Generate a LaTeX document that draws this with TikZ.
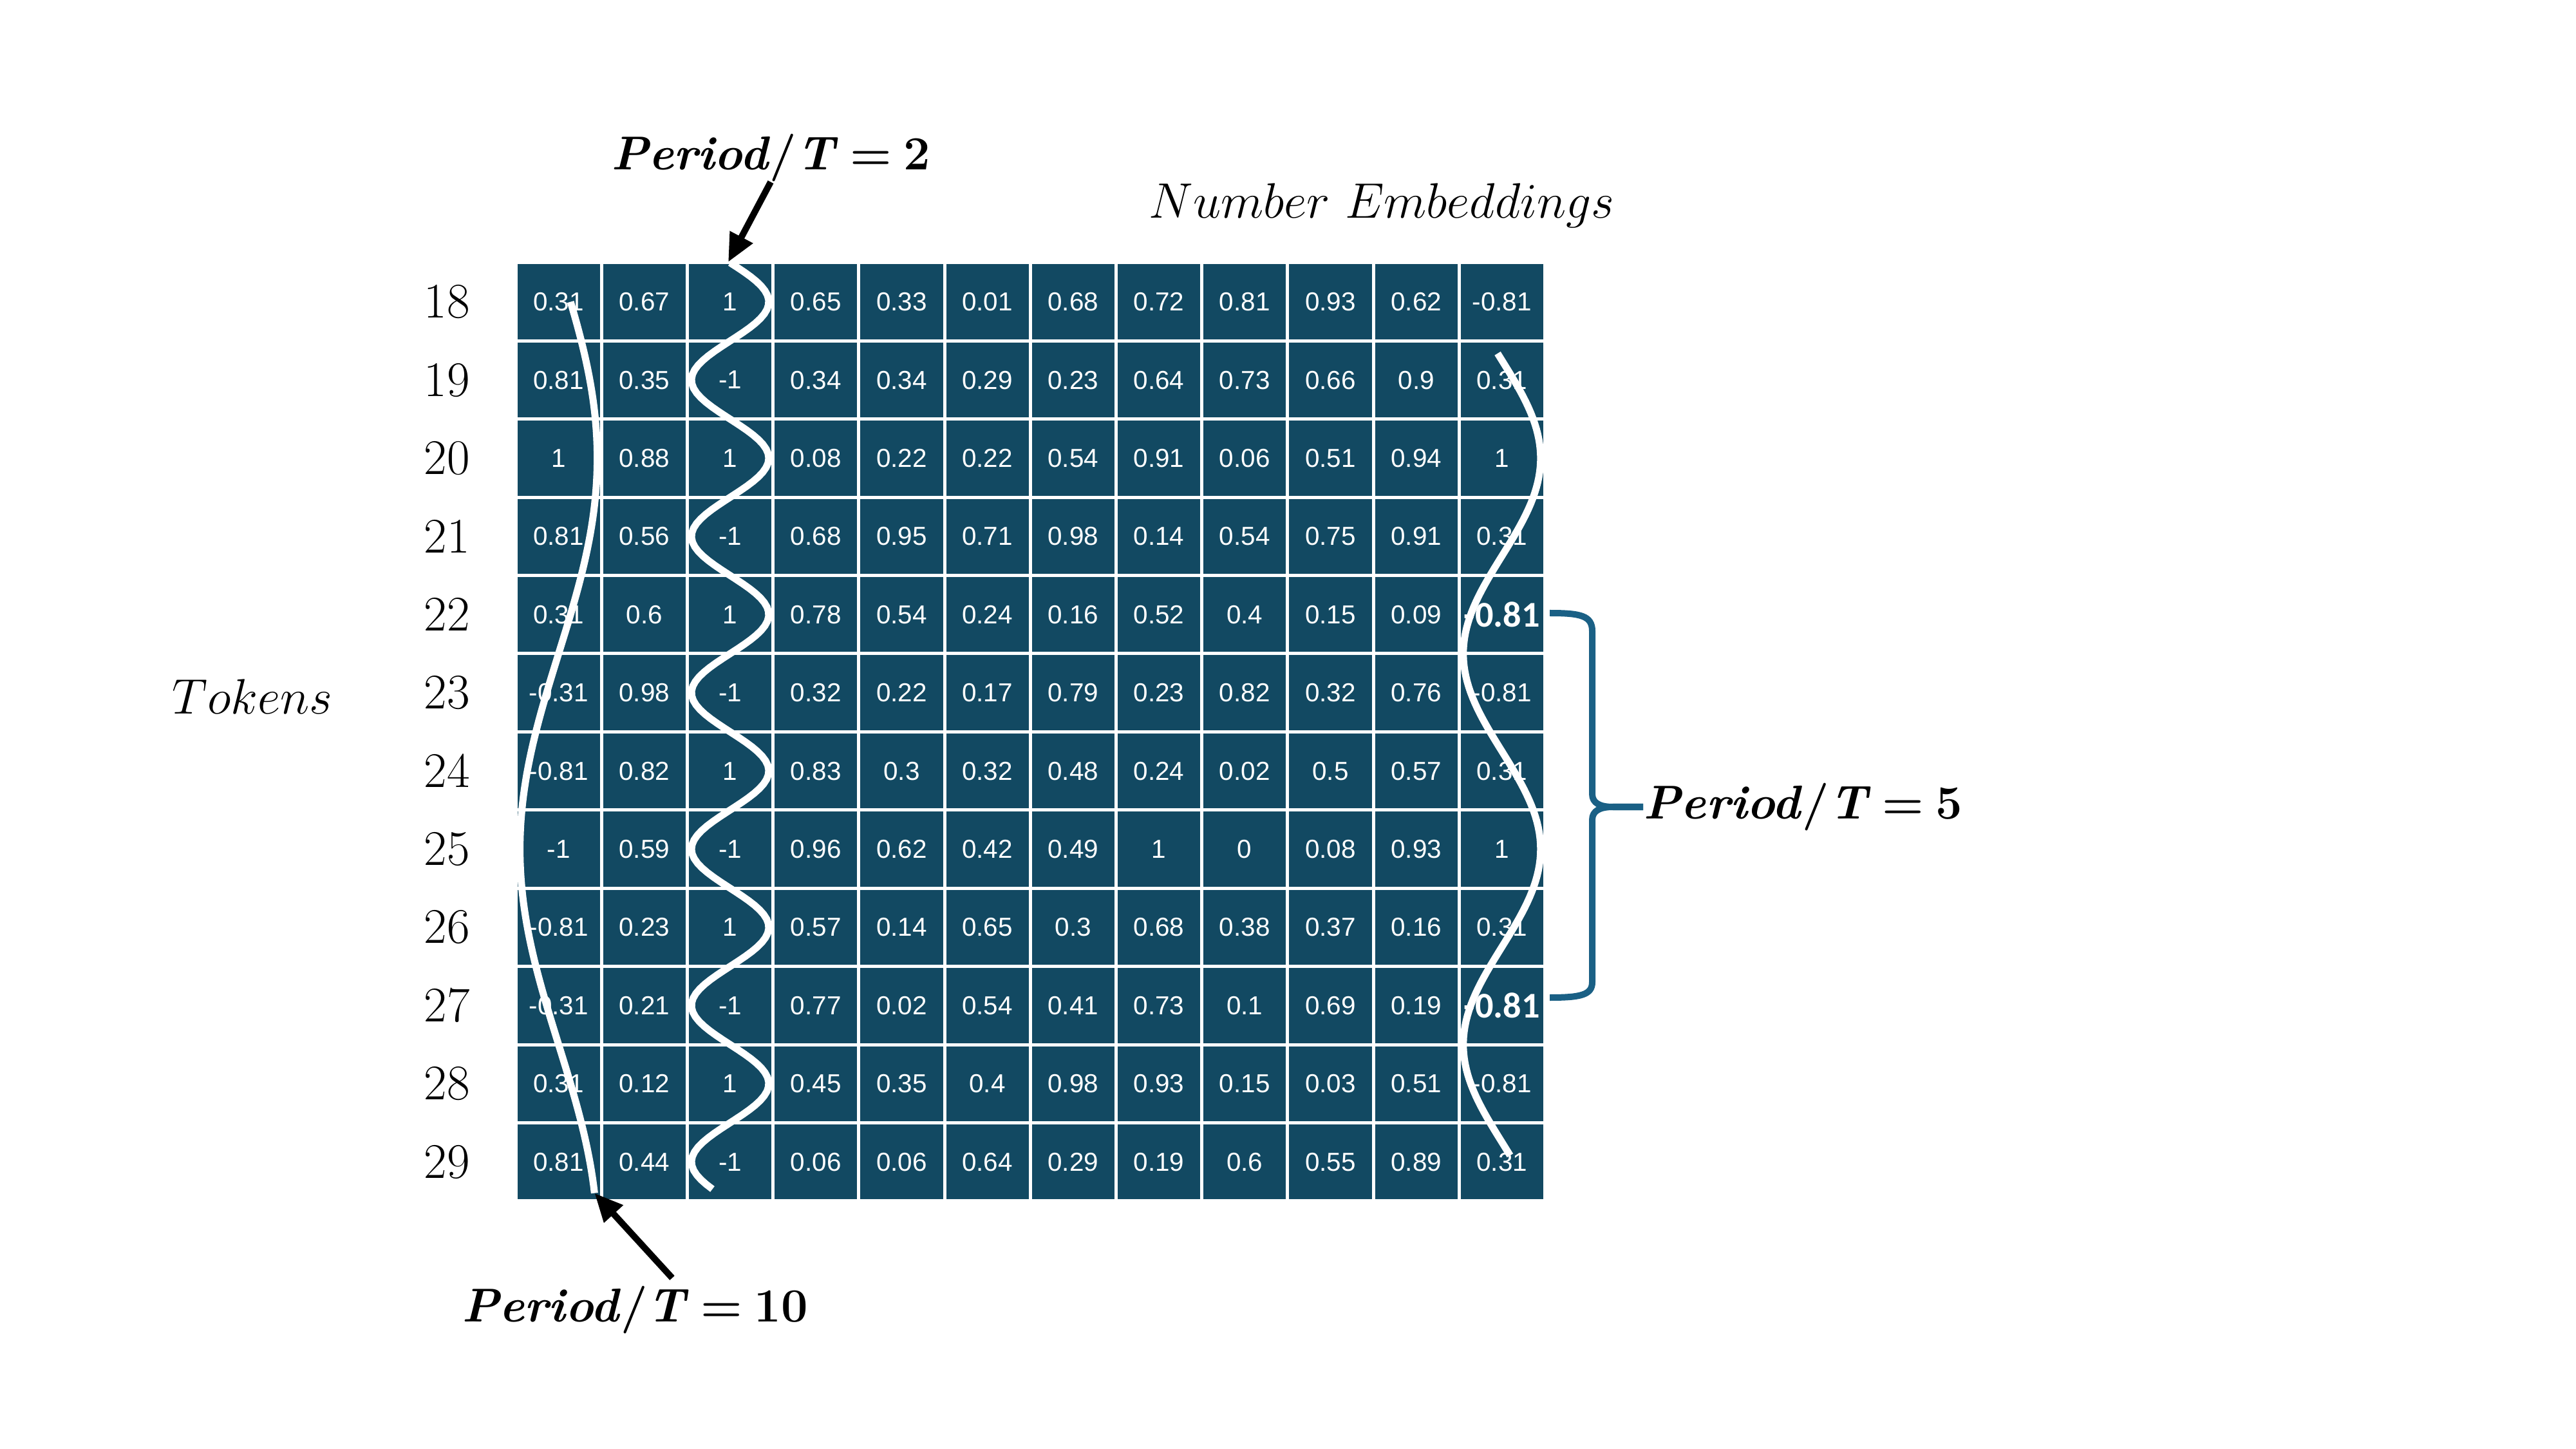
\RequirePackage{fix-cm}
\documentclass[tikz,border=0pt]{standalone}
\usepackage{fontspec}
\newfontfamily\cellfont{Liberation Sans}
\newfontfamily\boldcellfont{Carlito}
\usetikzlibrary{arrows.meta,calc}
\definecolor{cellblue}{RGB}{18,73,98}
\definecolor{bracecol}{RGB}{26,96,133}
\newcommand\bfc{\boldcellfont\bfseries\fontsize{16}{18}\selectfont}
\newcommand\perlab[1]{\textbf{\textit{Period}/\textit{T}\hspace{0.25em}=\hspace{0.25em}#1}}
\begin{document}
\begin{tikzpicture}[x=1cm,y=1cm,
  cell/.style={rectangle, minimum width=1.332cm, minimum height=1.214cm, inner sep=0pt,
    fill=cellblue, draw=white, line width=0.05cm, text=white,
    font=\cellfont\fontsize{11.5}{13}\selectfont},
  rowlab/.style={font=\fontsize{22}{26}\selectfont, inner sep=0pt},
  mathlab/.style={font=\fontsize{22}{26}\selectfont, inner sep=0pt},
  boldlab/.style={font=\fontsize{21}{25}\selectfont, inner sep=0pt},
  wave/.style={draw=white, line width=0.11cm},
  arr/.style={-{Triangle[length=0.44cm,width=0.38cm]}, line width=0.1cm, draw=black},
  bracestyle/.style={draw=bracecol, line width=0.1cm, line join=round}
]
\useasboundingbox (0,0) rectangle (40.01,-22.5);

% grid of cells
\foreach \row [count=\i from 0] in {
  {0.31,0.67,1,0.65,0.33,0.01,0.68,0.72,0.81,0.93,0.62,-0.81},
  {0.81,0.35,-1,0.34,0.34,0.29,0.23,0.64,0.73,0.66,0.9,0.31},
  {1,0.88,1,0.08,0.22,0.22,0.54,0.91,0.06,0.51,0.94,1},
  {0.81,0.56,-1,0.68,0.95,0.71,0.98,0.14,0.54,0.75,0.91,0.31},
  {0.31,0.6,1,0.78,0.54,0.24,0.16,0.52,0.4,0.15,0.09,\bfc -0.81},
  {-0.31,0.98,-1,0.32,0.22,0.17,0.79,0.23,0.82,0.32,0.76,-0.81},
  {-0.81,0.82,1,0.83,0.3,0.32,0.48,0.24,0.02,0.5,0.57,0.31},
  {-1,0.59,-1,0.96,0.62,0.42,0.49,1,0,0.08,0.93,1},
  {-0.81,0.23,1,0.57,0.14,0.65,0.3,0.68,0.38,0.37,0.16,0.31},
  {-0.31,0.21,-1,0.77,0.02,0.54,0.41,0.73,0.1,0.69,0.19,\bfc -0.81},
  {0.31,0.12,1,0.45,0.35,0.4,0.98,0.93,0.15,0.03,0.51,-0.81},
  {0.81,0.44,-1,0.06,0.06,0.64,0.29,0.19,0.6,0.55,0.89,0.31}}{
  \foreach \v [count=\j from 0] in \row {
    \node[cell] (c-\i-\j) at ({8.01+(\j+0.5)*1.332}, {-4.08-(\i+0.5)*1.214}) {\v};
  }
}

% row labels
\foreach \n [count=\i from 0] in {18,...,29} {
  \node[rowlab] (r\n) at (6.94, {-4.08-(\i+0.5)*1.214}) {\n};
}

% axis labels
\node[mathlab] (emb) at (21.46,-3.19) {$Number\ Embeddings$};
\node[mathlab] (tok) at (3.92,-10.82) {$Tokens$};

% period labels
\node[boldlab] (pa) at (11.97,-2.45) {\perlab{2}};
\node[boldlab] (pb) at (9.86,-20.34) {\perlab{10}};
\node[boldlab, anchor=west] (pc) at (25.52,-12.53) {\perlab{5}};

% waves
\draw[wave] plot[domain=18:29.4, samples=120, variable=\t]
  ({8.676+0.6*cos(36*(\t-20))}, {-4.08-(\t-17.5)*1.214});
\draw[wave] plot[domain=17.5:29.35, samples=200, variable=\t]
  ({11.34+0.6*cos(180*(\t-18))}, {-4.08-(\t-17.5)*1.214});
\draw[wave] plot[domain=18.66:28.92, samples=150, variable=\t]
  ({23.328+0.6*cos(72*(\t-20))}, {-4.08-(\t-17.5)*1.214});

% wave ends for arrows
\coordinate (w2s) at (11.31,-4.07);
\coordinate (w10e) at ({8.676+0.6*cos(36*9.4)}, {-4.08-11.9*1.214});

% arrows
\draw[arr] (pa.south) -- (w2s);
\draw[arr] ($(pb.north)+(0.58,0.12)$) -- (w10e);

% brace
\coordinate (bt) at (24.07,-9.52);
\coordinate (bb) at (24.07,-15.49);
\draw[bracestyle] (bt) .. controls (24.55,-9.52) and (24.73,-9.56) .. (24.73,-9.8)
  -- (24.73,-12.33) .. controls (24.73,-12.47) and (24.85,-12.53) .. (25.05,-12.53)
  -- (pc.west);
\draw[bracestyle] (pc.west) -- (25.05,-12.53)
  .. controls (24.85,-12.53) and (24.73,-12.59) .. (24.73,-12.73)
  -- (24.73,-15.25) .. controls (24.73,-15.45) and (24.55,-15.49) .. (bb);
\end{tikzpicture}
\end{document}
